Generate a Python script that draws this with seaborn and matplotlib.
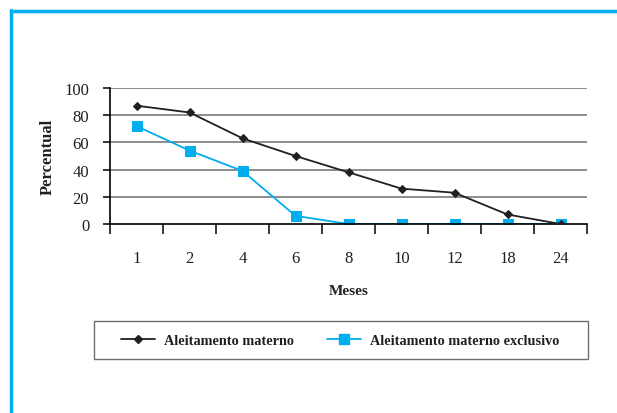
import matplotlib
matplotlib.use("Agg")
import matplotlib.pyplot as plt
import seaborn as sns
import pandas as pd
from matplotlib.lines import Line2D
from matplotlib.patches import Rectangle

meses = ["1", "2", "4", "6", "8", "10", "12", "18", "24"]
aleitamento = [87, 82, 63, 50, 38, 26, 23, 7, 0]
exclusivo = [72, 54, 39, 6, 0, 0, 0, 0, 0]
yticks = [0, 20, 40, 60, 80, 100]

sns.set_theme(style="white")
plt.rcParams["font.family"] = ["Liberation Serif", "DejaVu Serif"]

df1 = pd.DataFrame({"Meses": meses, "Percentual": aleitamento})
df2 = pd.DataFrame({"Meses": meses, "Percentual": exclusivo})

fig = plt.figure(figsize=(6.17, 4.14), dpi=100)
ax = fig.add_axes([110/617, 1-225/414, 477/617, 136/414])

black = "#231f20"
blue = "#00aeef"

sns.lineplot(data=df1, x="Meses", y="Percentual", ax=ax, color=black, marker="D",
             markersize=4.5, markeredgecolor=black, linewidth=1.3, sort=False,
             label="Aleitamento materno", zorder=3)
sns.lineplot(data=df2, x="Meses", y="Percentual", ax=ax, color=blue, marker="s",
             markersize=6.5, markeredgecolor=blue, linewidth=1.3, sort=False,
             label="Aleitamento materno exclusivo", zorder=2)

ax.set_xlim(-0.5, len(meses) - 0.5)
ax.set_ylim(0, 100)
ax.set_yticks(yticks)
for y in yticks[1:]:
    ax.axhline(y, color="#6d6e70", linewidth=1.1, zorder=1)

for s in ["top", "right"]:
    ax.spines[s].set_visible(False)
ax.spines["left"].set_color("black")
ax.spines["bottom"].set_color("black")
ax.spines["left"].set_linewidth(1.2)
ax.spines["bottom"].set_linewidth(1.2)

ax.set_xticks([i - 0.5 for i in range(len(meses) + 1)], minor=True)
ax.tick_params(axis="x", which="minor", length=7, width=1.1, color="black", direction="out", bottom=True)
ax.tick_params(axis="x", which="major", length=0, pad=19, labelsize=12, bottom=True)
ax.tick_params(axis="y", which="major", length=5, width=1.1, color="black", direction="out", left=True,
               labelsize=12, pad=10)
for lab in ax.get_xticklabels() + ax.get_yticklabels():
    lab.set_color("#231f20")

ax.set_xlabel("Meses", fontsize=11, fontweight="bold", labelpad=13, color="#231f20")
ax.set_ylabel("Percentual", fontsize=12, fontweight="bold", labelpad=6, color="#231f20")

ax.legend_.remove()
handles = [
    Line2D([], [], color=black, marker="D", markersize=4.5, linewidth=1.3),
    Line2D([], [], color=blue, marker="s", markersize=6.5, linewidth=1.3),
]
leg = fig.legend(handles, ["Aleitamento materno", "Aleitamento materno exclusivo"],
                 loc="center", bbox_to_anchor=(340/617, 1-341/414), ncol=2, frameon=False,
                 handlelength=2.4, handletextpad=0.6,
                 columnspacing=2.3, borderpad=0.0, prop={"weight": "bold", "size": 10.3})
for t in leg.get_texts():
    t.set_color("#231f20")

# legend box
fig.add_artist(Rectangle((94/617, 1-360/414), 494/617, 38/414, fill=False,
                         edgecolor="#6d6e70", linewidth=1.0, transform=fig.transFigure))

# blue frame
fig.add_artist(Line2D([11/617, 11/617], [0, 1-11/414], color=blue, linewidth=2.5,
                      transform=fig.transFigure))
fig.add_artist(Line2D([11/617, 1], [1-12/414, 1-12/414], color=blue, linewidth=2.5,
                      transform=fig.transFigure))

fig.savefig("out.png", dpi=100)
